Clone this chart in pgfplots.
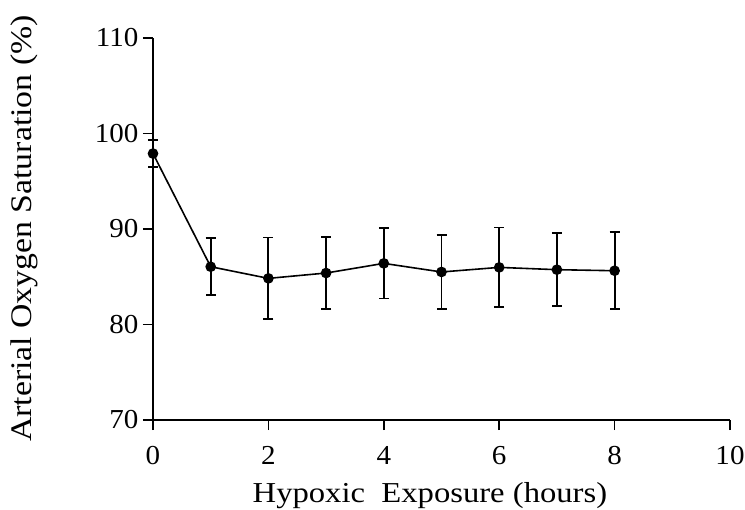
\documentclass[border=0pt]{standalone}
\usepackage{fontspec}
\setmainfont{Liberation Serif}
\newfontfamily\labelfont[FakeStretch=1.13]{Liberation Serif}
\newfontfamily\tickfont[FakeStretch=1.06]{Liberation Serif}
\usepackage{pgfplots}
\pgfplotsset{compat=1.18}

% arterial oxygen saturation over hypoxic exposure: mean and error bar
\pgfplotstableread{
t   spo2   err
0   97.9   1.4
1   86.05  3.0
2   84.83  4.27
3   85.39  3.76
4   86.40  3.68
5   85.50  3.90
6   85.98  4.18
7   85.74  3.80
8   85.63  4.04
}\saturation

\begin{document}
\begin{tikzpicture}[x=1bp,y=1bp]
\useasboundingbox (-153bp,-90bp) rectangle (592bp,420bp);
\begin{axis}[
  at={(0,0)}, anchor=south west,
  width=577bp, height=382bp, scale only axis,
  xmin=0, xmax=10, ymin=70, ymax=110,
  axis x line*=bottom, axis y line*=left,
  axis line style={line width=1.6bp, -},
  xtick={0,2,...,10}, ytick={70,80,...,110},
  tick align=outside, major tick length=10bp,
  tick style={line width=1.6bp, black},
  minor tick num=0,
  tick label style={font=\tickfont\fontsize{27.5}{30}\selectfont},
  /pgf/number format/assume math mode=true,
  xticklabel style={yshift=-13bp},
  yticklabel style={xshift=-1bp},
  clip=false,
  xlabel={Hypoxic\ \ Exposure (hours)},
  xlabel style={font=\labelfont\fontsize{29}{31}\selectfont, at={(axis description cs:0.48,-0.215)}, anchor=base},
  ylabel={Arterial Oxygen Saturation (\%)},
  ylabel style={font=\labelfont\fontsize{30}{32}\selectfont, at={(axis description cs:-0.2102,0.501)}, anchor=base, rotate=0},
]
\addplot[black, line width=1.6bp,
  mark=*, mark size=4.5bp, mark options={solid, fill=black},
  error bars/.cd, y dir=both, y explicit,
  error bar style={line width=1.8bp, black},
  error mark options={rotate=90, mark size=5bp, line width=1.8bp}]
  table[x=t, y=spo2, y error=err] {\saturation};
\end{axis}
\end{tikzpicture}
\end{document}
